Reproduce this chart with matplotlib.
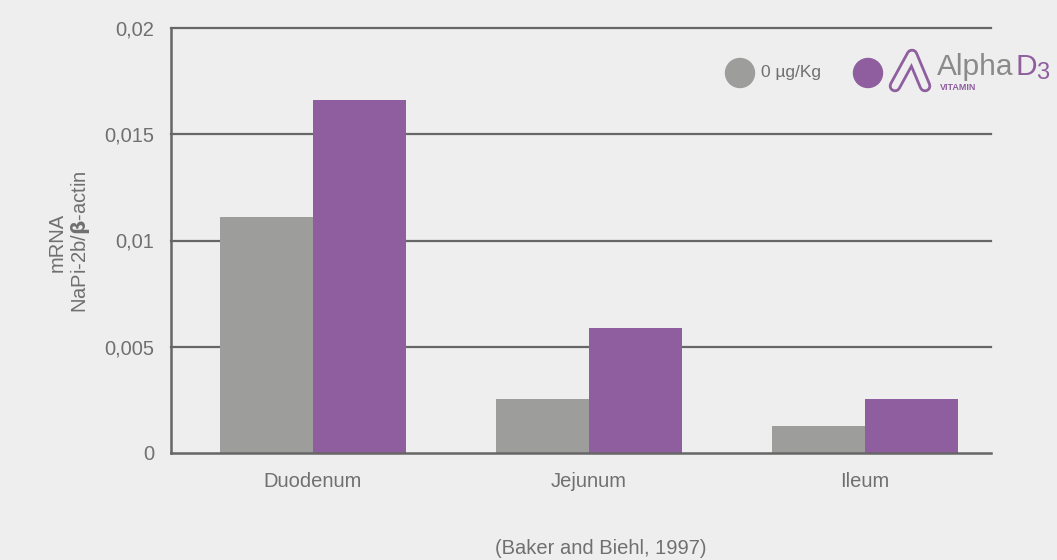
import matplotlib
matplotlib.use("Agg")
import matplotlib.pyplot as plt
import numpy as np
from matplotlib.patches import Circle
from matplotlib.lines import Line2D

categories = ["Duodenum", "Jejunum", "Ileum"]
control_values = [0.0111, 0.00254, 0.00127]
alpha_values = [0.0166, 0.00588, 0.00254]
yticks = [0, 0.005, 0.01, 0.015, 0.02]
ytick_labels = ["0", "0,005", "0,01", "0,015", "0,02"]
legend_label = "0 µg/Kg"
citation = "(Baker and Biehl, 1997)"

BG = "#eeeeee"
GREY = "#9d9d9b"
PURPLE = "#8f5e9f"
TXT = "#707070"
LINE = "#666666"

plt.rcParams['font.family'] = ['Liberation Sans', 'DejaVu Sans']

fig = plt.figure(figsize=(10.57, 5.6), dpi=100, facecolor=BG)
ax = fig.add_axes([171/1057, 1-453/560, 820/1057, 425/560])
ax.set_facecolor(BG)

x = np.arange(len(categories))
w = 0.337
ax.bar(x - w/2, control_values, w, color=GREY, zorder=3)
ax.bar(x + w/2, alpha_values, w, color=PURPLE, zorder=3)

ax.set_xlim(-0.5145, 2.4565)
ax.set_ylim(0, 0.02)
ax.set_yticks(yticks)
ax.set_yticklabels(ytick_labels)
ax.set_xticks(x)
ax.set_xticklabels(categories)
ax.tick_params(axis='both', length=0, labelsize=14.5, labelcolor=TXT)
ax.tick_params(axis='y', pad=12)
ax.tick_params(axis='x', pad=14)
for t in yticks[1:]:
    ax.axhline(t, color=LINE, lw=1.6, zorder=2, clip_on=False)
for s in ["top", "right"]:
    ax.spines[s].set_visible(False)
for s in ["left", "bottom"]:
    ax.spines[s].set_color(LINE)
    ax.spines[s].set_linewidth(1.8)
    ax.spines[s].set_zorder(4)

fig.text(57/1057, 1-242/560, "mRNA", rotation=90, ha='center', va='center',
         fontsize=14.5, color=TXT)
fig.text(80/1057, 1-242/560, "NaPi-2b/$\\mathbf{\\beta}$-actin", rotation=90,
         ha='center', va='center', fontsize=14.5, color=TXT)

fig.text(601/1057, 1-549/560, citation, ha='center', va='center',
         fontsize=14.5, color=TXT)

# legend
c1 = Circle((740/100, (560-73)/100), 0.145, transform=fig.dpi_scale_trans, color=GREY)
fig.patches.append(c1)
fig.text(761/1057, 1-72/560, legend_label, ha='left', va='center', fontsize=12.5, color=TXT)
c2 = Circle((868/100, (560-73)/100), 0.145, transform=fig.dpi_scale_trans, color=PURPLE)
fig.patches.append(c2)

# logo glyph
lx = np.array([895, 912, 925]) / 1057
ly = 1 - np.array([86, 55, 86]) / 560
fig.lines.append(Line2D(lx, ly, transform=fig.transFigure, color=PURPLE, lw=9,
                        solid_capstyle='round', solid_joinstyle='round'))
fig.lines.append(Line2D(lx, ly, transform=fig.transFigure, color=BG, lw=5,
                        solid_capstyle='round', solid_joinstyle='round'))
fig.text(937/1057, 1-75/560, "Alpha", ha='left', va='baseline', fontsize=21.5,
         color="#8a8a8a")
fig.text(1016/1057, 1-75/560, "D", ha='left', va='baseline', fontsize=21.5,
         color=PURPLE)
fig.text(1036/1057, 1-79/560, "3", ha='left', va='baseline', fontsize=17,
         color=PURPLE)
fig.text(940/1057, 1-88/560, "VITAMIN", ha='left', va='center', fontsize=6.5,
         color=PURPLE, weight='bold')

fig.savefig("out.png", dpi=100, facecolor=BG)
